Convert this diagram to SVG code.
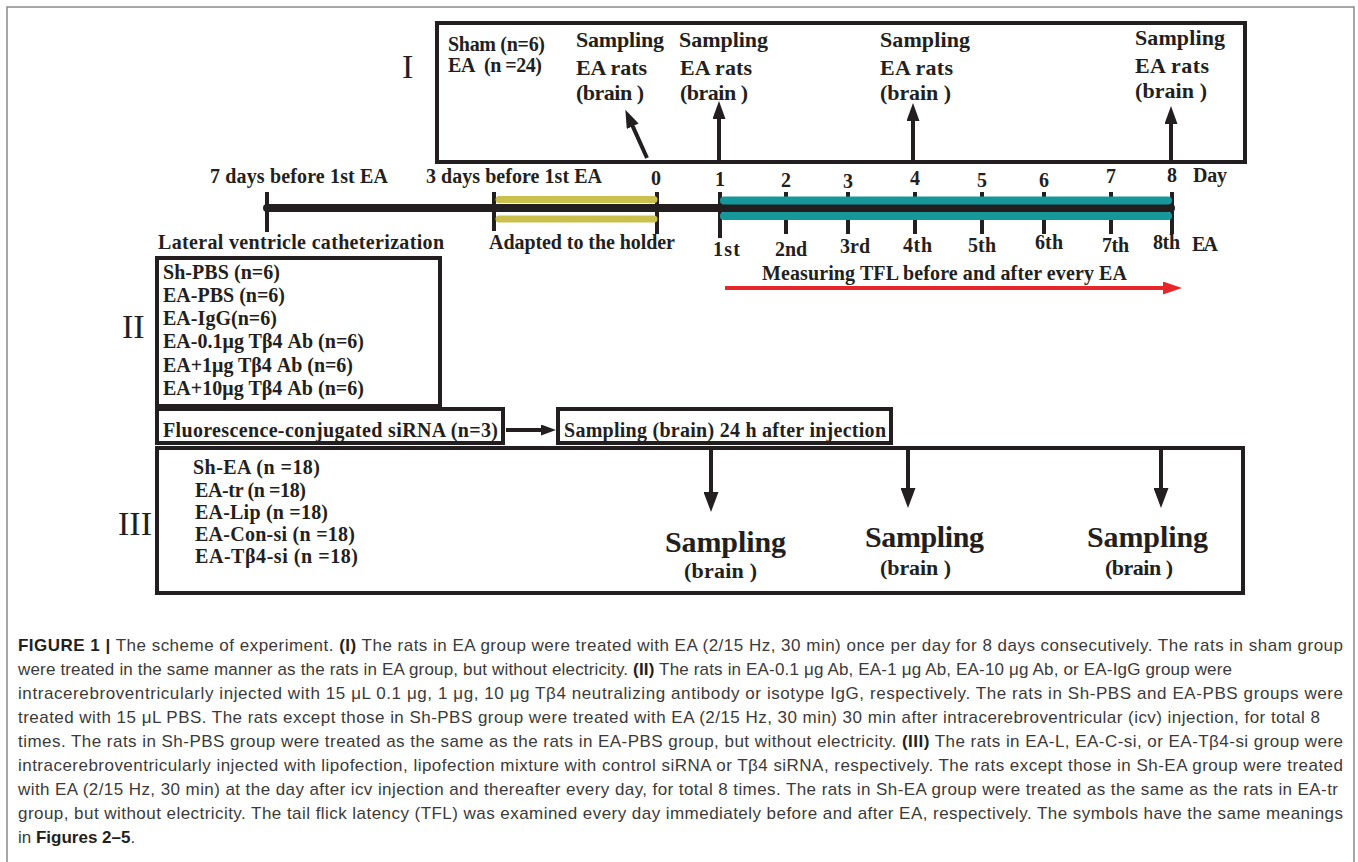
<svg xmlns="http://www.w3.org/2000/svg" width="1358" height="862" viewBox="0 0 1358 862">
<style>
.t{font-family:"Liberation Serif","Times New Roman",serif;font-weight:bold;fill:#231f20;font-size:20px}
.rn{font-family:"Liberation Serif","Times New Roman",serif;font-weight:normal;fill:#231f20;font-size:34px}
.big{font-size:30px}
.mid{font-size:22px}
.num{text-anchor:middle}
.box{fill:none;stroke:#231f20;stroke-width:4}
.cap{font-family:"Liberation Sans",Arial,sans-serif;font-size:17px;fill:#3a3a3a}
.b{font-weight:bold;fill:#231f20}
.ln{stroke:#231f20;stroke-width:4;fill:none}
.tick{stroke:#231f20;stroke-width:4}
</style>
<defs>
<marker id="arr" viewBox="0 0 18 13" refX="2" refY="6.5" markerWidth="18" markerHeight="13" markerUnits="userSpaceOnUse" orient="auto"><path d="M0,0 L18,6.5 L0,13 Z" fill="#231f20"/></marker>
<marker id="arrL" viewBox="0 0 20 15" refX="2" refY="7.5" markerWidth="20" markerHeight="15" markerUnits="userSpaceOnUse" orient="auto"><path d="M0,0 L20,7.5 L0,15 Z" fill="#231f20"/></marker>
<marker id="arrS" viewBox="0 0 15 11" refX="2" refY="5.5" markerWidth="15" markerHeight="11" markerUnits="userSpaceOnUse" orient="auto"><path d="M0,0 L15,5.5 L0,11 Z" fill="#231f20"/></marker>
<marker id="arrR" viewBox="0 0 19 13" refX="2" refY="6.5" markerWidth="19" markerHeight="13" markerUnits="userSpaceOnUse" orient="auto"><path d="M0,0 L19,6.5 L0,13 Z" fill="#e8262a"/></marker>
</defs>
<rect x="0" y="0" width="1358" height="862" fill="#ffffff"/>
<rect x="7" y="7" width="1347" height="900" fill="none" stroke="#8a8a8a" stroke-width="1.5"/>

<g id="group-I">
<rect class="box" x="437" y="23" width="808" height="139"/>
<text class="rn" x="402" y="78">I</text>
<text class="t" x="448" y="51" textLength="97">Sham (n=6)</text>
<text class="t" x="448" y="72" textLength="94">EA&#160; (n =24)</text>
<text class="t mid" x="576" y="47" textLength="88">Sampling</text>
<text class="t mid" x="576" y="75" textLength="71">EA rats</text>
<text class="t mid" x="576" y="100" textLength="68">(brain )</text>
<text class="t mid" x="679" y="47" textLength="89">Sampling</text>
<text class="t mid" x="680" y="75" textLength="72">EA rats</text>
<text class="t mid" x="680" y="100" textLength="68">(brain )</text>
<text class="t mid" x="880" y="47" textLength="90">Sampling</text>
<text class="t mid" x="880" y="75" textLength="73">EA rats</text>
<text class="t mid" x="880" y="100" textLength="71">(brain )</text>
<text class="t mid" x="1135" y="45" textLength="90">Sampling</text>
<text class="t mid" x="1135" y="73" textLength="74">EA rats</text>
<text class="t mid" x="1135" y="98" textLength="72">(brain )</text>
</g>

<g id="timeline">
<line class="tick" x1="267" y1="192" x2="267" y2="232"/>
<line class="tick" x1="494" y1="192" x2="494" y2="231"/>
<line class="tick" x1="657" y1="192" x2="657" y2="234"/>
<line class="tick" x1="720" y1="192" x2="720" y2="238"/>
<line class="tick" x1="786" y1="192" x2="786" y2="234"/>
<line class="tick" x1="848" y1="192" x2="848" y2="234"/>
<line class="tick" x1="915" y1="192" x2="915" y2="234"/>
<line class="tick" x1="982" y1="192" x2="982" y2="234"/>
<line class="tick" x1="1044" y1="192" x2="1044" y2="234"/>
<line class="tick" x1="1111" y1="192" x2="1111" y2="234"/>
<line class="tick" x1="1172" y1="192" x2="1172" y2="234"/>
<line x1="267" y1="208" x2="1171" y2="208" stroke="#231f20" stroke-width="8" stroke-linecap="round"/>
<line x1="499" y1="199.5" x2="654" y2="199.5" stroke="#cbbf4e" stroke-width="7" stroke-linecap="round"/>
<line x1="499" y1="219" x2="654" y2="219" stroke="#cbbf4e" stroke-width="7" stroke-linecap="round"/>
<line x1="724" y1="200.5" x2="1168" y2="200.5" stroke="#16979a" stroke-width="8" stroke-linecap="round"/>
<line x1="724" y1="216" x2="1168" y2="216" stroke="#16979a" stroke-width="8" stroke-linecap="round"/>
<text class="t" x="210" y="183" textLength="178">7 days before 1st EA</text>
<text class="t" x="426" y="183" textLength="176">3 days before 1st EA</text>
<text class="t num" x="656" y="185">0</text>
<text class="t num" x="720" y="186">1</text>
<text class="t num" x="786" y="187">2</text>
<text class="t num" x="848" y="188">3</text>
<text class="t num" x="915" y="185">4</text>
<text class="t num" x="982" y="187">5</text>
<text class="t num" x="1044" y="187">6</text>
<text class="t num" x="1111" y="183">7</text>
<text class="t num" x="1172" y="182">8</text>
<text class="t" x="1193" y="182" textLength="34">Day</text>
<text class="t" x="158" y="249" textLength="286">Lateral ventricle catheterization</text>
<text class="t" x="489" y="249" textLength="186">Adapted to the holder</text>
<text class="t" x="713" y="256" textLength="27">1st</text>
<text class="t" x="775" y="256" textLength="32">2nd</text>
<text class="t" x="840" y="253" textLength="30">3rd</text>
<text class="t" x="903" y="252" textLength="29">4th</text>
<text class="t" x="968" y="252" textLength="28">5th</text>
<text class="t" x="1035" y="249" textLength="28">6th</text>
<text class="t" x="1102" y="252" textLength="27">7th</text>
<text class="t" x="1153" y="249" textLength="27">8th</text>
<text class="t" x="1192" y="251" textLength="26">EA</text>
<text class="t" x="762" y="280" textLength="365">Measuring TFL before and after every EA</text>
</g>

<g id="group-II">
<rect class="box" x="157" y="258" width="283" height="148"/>
<text class="rn" x="122" y="338">II</text>
<text class="t" x="163" y="279" textLength="117">Sh-PBS (n=6)</text>
<text class="t" x="163" y="302" textLength="122">EA-PBS (n=6)</text>
<text class="t" x="163" y="325" textLength="114">EA-IgG(n=6)</text>
<text class="t" x="163" y="348" textLength="201">EA-0.1μg Tβ4 Ab (n=6)</text>
<text class="t" x="163" y="372" textLength="190">EA+1μg Tβ4 Ab (n=6)</text>
<text class="t" x="163" y="395" textLength="201">EA+10μg Tβ4 Ab (n=6)</text>
</g>

<g id="sirna">
<rect class="box" x="157" y="409" width="346" height="34"/>
<text class="t" x="163" y="437" textLength="335">Fluorescence-conjugated siRNA (n=3)</text>
</g>

<g id="sampling-24h">
<rect class="box" x="558" y="409" width="333" height="34"/>
<text class="t" x="564" y="437" textLength="322">Sampling (brain) 24 h after injection</text>
</g>

<g id="group-III">
<rect class="box" x="157" y="448" width="1086" height="145"/>
<text class="rn" x="118" y="535">III</text>
<text class="t" x="193" y="474" textLength="127">Sh-EA (n =18)</text>
<text class="t" x="195" y="497" textLength="111">EA-tr (n =18)</text>
<text class="t" x="195" y="519" textLength="133">EA-Lip (n =18)</text>
<text class="t" x="195" y="541" textLength="160">EA-Con-si (n =18)</text>
<text class="t" x="195" y="563" textLength="163">EA-Tβ4-si (n =18)</text>
<text class="t big" x="665" y="552" textLength="121">Sampling</text>
<text class="t mid" x="684" y="578" textLength="73">(brain )</text>
<text class="t big" x="865" y="547" textLength="119">Sampling</text>
<text class="t mid" x="880" y="575" textLength="71">(brain )</text>
<text class="t big" x="1087" y="547" textLength="121">Sampling</text>
<text class="t mid" x="1105" y="575" textLength="68">(brain )</text>
</g>

<g id="connectors">
<line class="ln" x1="647" y1="158" x2="631.9" y2="124.4" marker-end="url(#arr)"/>
<line class="ln" x1="719" y1="160" x2="719" y2="117" marker-end="url(#arr)"/>
<line class="ln" x1="913" y1="160" x2="913" y2="119" marker-end="url(#arr)"/>
<line class="ln" x1="1171" y1="160" x2="1171" y2="122" marker-end="url(#arr)"/>
<line class="ln" x1="506" y1="430" x2="543" y2="430" marker-end="url(#arrS)"/>
<line class="ln" x1="711" y1="450" x2="711" y2="494" marker-end="url(#arrL)"/>
<line class="ln" x1="908" y1="450" x2="908" y2="490" marker-end="url(#arrL)"/>
<line class="ln" x1="1161" y1="450" x2="1161" y2="490" marker-end="url(#arrL)"/>
<line x1="725" y1="288" x2="1165" y2="288" stroke="#e8262a" stroke-width="4" marker-end="url(#arrR)"/>
</g>

<g id="caption">
<text class="cap" x="18" y="651" textLength="1325"><tspan class="b">FIGURE 1 |</tspan> The scheme of experiment. <tspan class="b">(I)</tspan> The rats in EA group were treated with EA (2/15 Hz, 30 min) once per day for 8 days consecutively. The rats in sham group</text>
<text class="cap" x="18" y="675" textLength="1214">were treated in the same manner as the rats in EA group, but without electricity. <tspan class="b">(II)</tspan> The rats in EA-0.1 μg Ab, EA-1 μg Ab, EA-10 μg Ab, or EA-IgG group were</text>
<text class="cap" x="18" y="699" textLength="1325">intracerebroventricularly injected with 15 μL 0.1 μg, 1 μg, 10 μg Tβ4 neutralizing antibody or isotype IgG, respectively. The rats in Sh-PBS and EA-PBS groups were</text>
<text class="cap" x="18" y="723" textLength="1302">treated with 15 μL PBS. The rats except those in Sh-PBS group were treated with EA (2/15 Hz, 30 min) 30 min after intracerebroventricular (icv) injection, for total 8</text>
<text class="cap" x="18" y="747" textLength="1325">times. The rats in Sh-PBS group were treated as the same as the rats in EA-PBS group, but without electricity. <tspan class="b">(III)</tspan> The rats in EA-L, EA-C-si, or EA-Tβ4-si group were</text>
<text class="cap" x="18" y="771" textLength="1325">intracerebroventricularly injected with lipofection, lipofection mixture with control siRNA or Tβ4 siRNA, respectively. The rats except those in Sh-EA group were treated</text>
<text class="cap" x="18" y="795" textLength="1320">with EA (2/15 Hz, 30 min) at the day after icv injection and thereafter every day, for total 8 times. The rats in Sh-EA group were treated as the same as the rats in EA-tr</text>
<text class="cap" x="18" y="819" textLength="1325">group, but without electricity. The tail flick latency (TFL) was examined every day immediately before and after EA, respectively. The symbols have the same meanings</text>
<text class="cap" x="18" y="843">in <tspan class="b">Figures 2–5</tspan>.</text>
</g>
</svg>
